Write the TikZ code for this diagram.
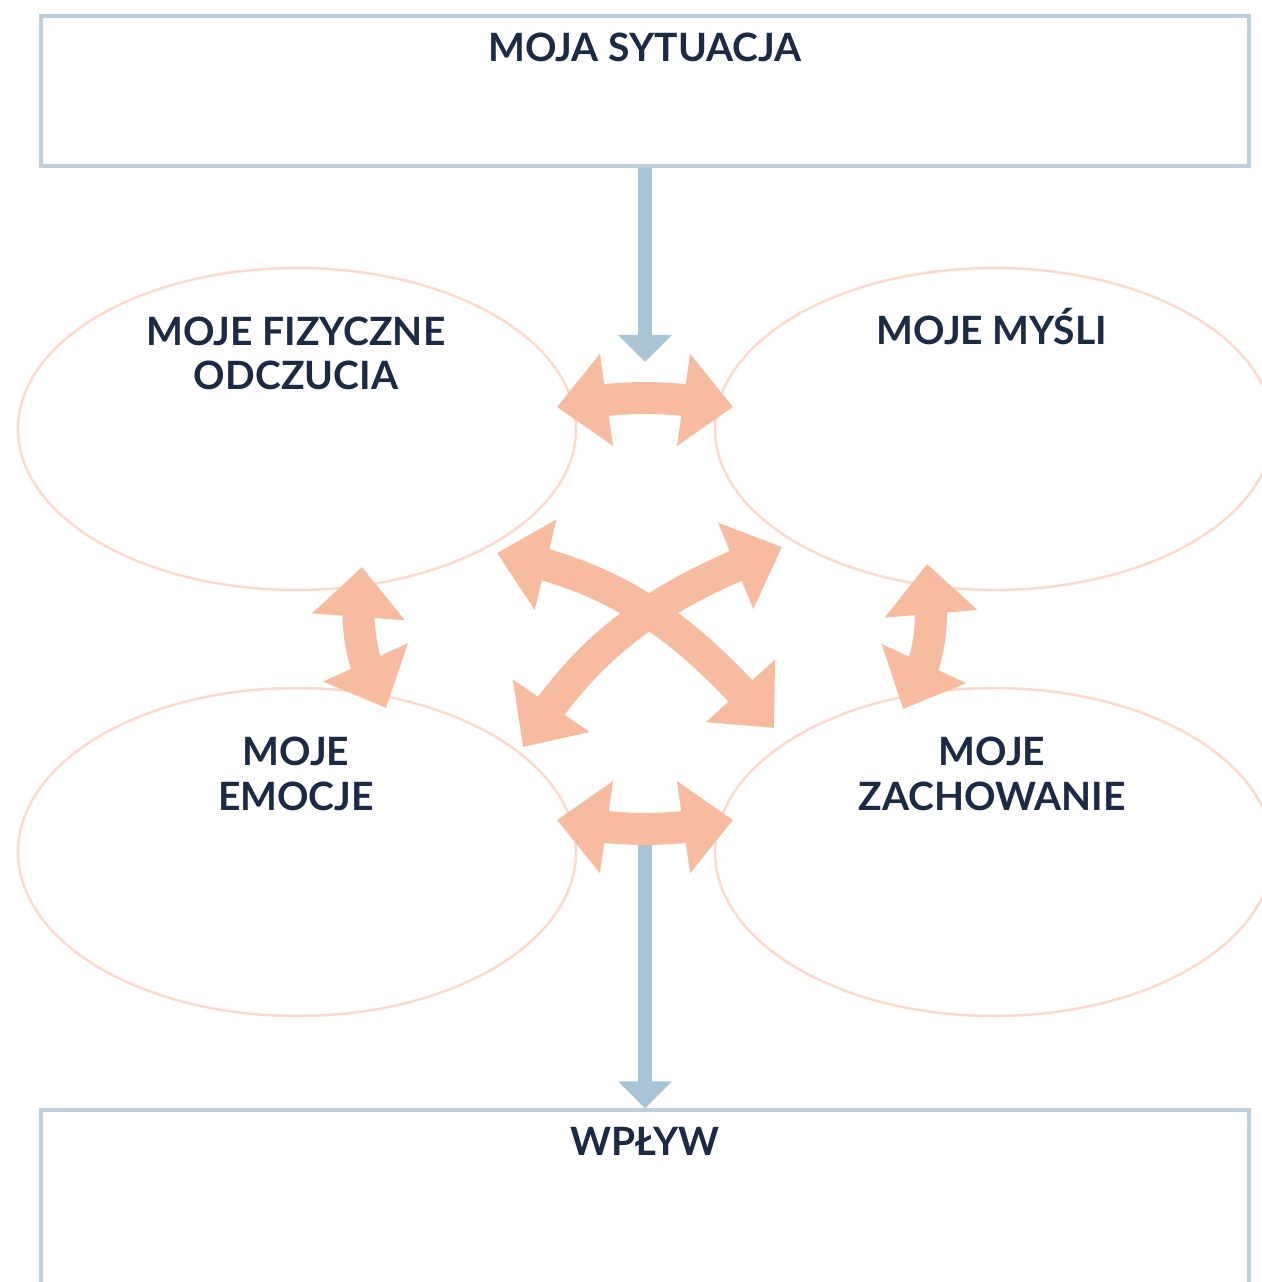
\documentclass[tikz,border=0pt]{standalone}
\usepackage{fontspec}
\setmainfont{Lato}
\usetikzlibrary{arrows.meta,bending,shapes.geometric}
\definecolor{ink}{HTML}{1B2A45}
\definecolor{frame}{HTML}{BCCFDB}
\definecolor{steel}{HTML}{A9C4D4}
\definecolor{peach}{HTML}{F7BBA0}
\definecolor{blush}{HTML}{FBDACB}
\begin{document}
\begin{tikzpicture}[box/.style={draw=frame,line width=0.9pt,minimum width=12.08cm,inner sep=0pt},
bubble/.style={ellipse,draw=blush,line width=0.7pt,minimum width=5.58cm,inner sep=0pt},
title/.style={font=\bfseries\fontsize{11.1}{12.8}\selectfont,text=ink,align=center,inner sep=0pt,anchor=base},
flow/.style={draw=steel,line width=0.14cm,-{Triangle[width=0.52cm,length=0.27cm]}},
twoway/.style={draw=peach,line width=0.32cm,{Triangle[width=0.9cm,length=0.5cm]}-{Triangle[width=0.9cm,length=0.5cm]}}]
\useasboundingbox (0,0) rectangle (12.61,-12.82);
\node[box,minimum height=1.5cm] (sit) at (6.45,-0.91) {};
\node[box,minimum height=1.8cm] (wpl) at (6.45,-12.0) {};
\node[bubble,minimum height=3.22cm] (fiz) at (2.97,-4.29) {};
\node[bubble,minimum height=3.22cm] (mys) at (9.94,-4.29) {};
\node[bubble,minimum height=3.28cm] (emo) at (2.97,-8.52) {};
\node[bubble,minimum height=3.28cm] (zach) at (9.94,-8.52) {};
\coordinate (sit-tip) at (6.45,-3.62);
\coordinate (wpl-from) at (6.45,-8.3);
\draw[flow] (sit.south) -- (sit-tip);
\draw[flow] (wpl-from) -- (wpl.north);
\coordinate (fiz-e) at (5.57,-4.07);
\coordinate (mys-w) at (7.33,-4.07);
\coordinate (emo-e) at (5.57,-8.20);
\coordinate (zach-w) at (7.33,-8.20);
\coordinate (fiz-s) at (3.62,-5.67);
\coordinate (emo-n) at (3.86,-7.08);
\coordinate (mys-s) at (9.27,-5.64);
\coordinate (zach-n) at (9.03,-7.09);
\coordinate (fiz-se) at (4.97,-5.53);
\coordinate (zach-nw) at (7.74,-7.28);
\coordinate (emo-ne) at (5.23,-7.47);
\coordinate (mys-sw) at (7.82,-5.47);
\draw[twoway] (fiz-e) to[bend left=10] (mys-w);
\draw[twoway] (emo-e) to[bend right=10] (zach-w);
\draw[twoway] (fiz-s) to[out=-98,in=120] (emo-n);
\draw[twoway] (mys-s) to[out=-82,in=59] (zach-n);
\draw[twoway] (fiz-se) to[out=-11,in=131] (zach-nw);
\draw[twoway] (emo-ne) to[out=58,in=-159] (mys-sw);
\node[title] (sit-t) at (6.45,-0.62) {MOJA SYTUACJA};
\node[title] (fiz-t) at (2.96,-3.90) {MOJE FIZYCZNE\\ODCZUCIA};
\node[title] (mys-t) at (9.92,-3.45) {MOJE MYŚLI};
\node[title] (emo-t) at (2.96,-8.10) {MOJE\\EMOCJE};
\node[title] (zach-t) at (9.92,-8.10) {MOJE\\ZACHOWANIE};
\node[title] (wpl-t) at (6.45,-11.55) {WPŁYW};
\end{tikzpicture}
\end{document}
